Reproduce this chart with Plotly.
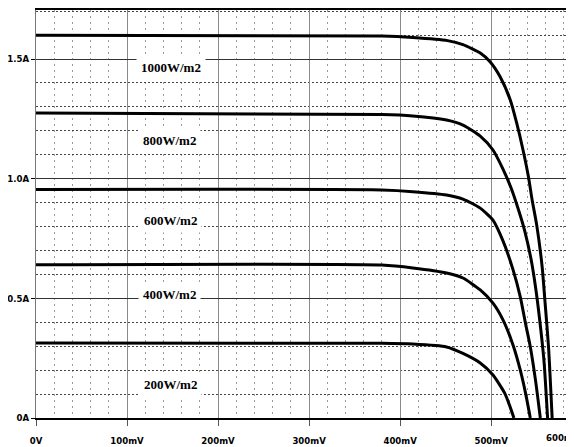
import plotly.graph_objects as go

# I-V curves (voltage in mV, current in A)
irradiance = ["1000W/m2", "800W/m2", "600W/m2", "400W/m2", "200W/m2"]

v_1000 = [0, 380, 414, 452, 469, 488, 499, 510, 521, 528, 535, 541, 545, 550, 556, 559, 563, 567]
i_1000 = [1.600, 1.596, 1.590, 1.577, 1.560, 1.525, 1.488, 1.425, 1.329, 1.233, 1.120, 1.007,
          0.911, 0.807, 0.632, 0.493, 0.298, 0.0]

v_800 = [0, 380, 414, 451, 469, 488, 502, 513, 522, 530, 537, 544, 549, 553, 558, 562]
i_800 = [1.275, 1.268, 1.262, 1.245, 1.224, 1.178, 1.120, 1.040, 0.960, 0.870, 0.780, 0.660,
         0.540, 0.420, 0.240, 0.0]

v_600 = [0, 380, 414, 451, 469, 488, 502, 513, 524, 532, 538, 543, 549, 554]
i_600 = [0.955, 0.953, 0.946, 0.932, 0.915, 0.877, 0.827, 0.740, 0.620, 0.506, 0.390, 0.298,
         0.150, 0.0]

v_400 = [0, 380, 414, 451, 469, 488, 502, 513, 524, 532, 538, 543]
i_400 = [0.640, 0.639, 0.627, 0.606, 0.585, 0.535, 0.480, 0.410, 0.305, 0.200, 0.100, 0.0]

v_200 = [0, 380, 414, 451, 469, 488, 502, 515, 520, 525]
i_200 = [0.313, 0.312, 0.309, 0.297, 0.270, 0.230, 0.180, 0.103, 0.055, 0.0]

curves = [(v_1000, i_1000), (v_800, i_800), (v_600, i_600), (v_400, i_400), (v_200, i_200)]

# where the irradiance labels sit (mV, A)
label_v = [148, 147, 148, 147, 148]
label_i = [1.463, 1.158, 0.827, 0.518, 0.138]

x_tickvals = [0, 100, 200, 300, 400, 500]
x_ticktext = ["0V", "100mV", "200mV", "300mV", "400mV", "500mV"]
y_tickvals = [0, 0.5, 1.0, 1.5]
y_ticktext = ["0A", "0.5A", "1.0A", "1.5A"]

X_MAX = 591
Y_MAX = 1.705

tick_font = dict(family="Liberation Sans Narrow, Arial Narrow, DejaVu Sans Condensed",
                 size=9.5, color="black", weight="bold")

fig = go.Figure()

for (v, i), name in zip(curves, irradiance):
    fig.add_trace(
        go.Scatter(
            x=v,
            y=i,
            mode="lines",
            name=name,
            line=dict(color="black", width=3, shape="spline", smoothing=0.6),
            showlegend=False,
        )
    )

for name, lv, li in zip(irradiance, label_v, label_i):
    fig.add_annotation(
        x=lv,
        y=li,
        text=name,
        showarrow=False,
        bgcolor="white",
        borderpad=4,
        font=dict(family="Liberation Serif, Times New Roman, serif", size=13,
                  color="black", weight="bold"),
    )

# 600mV label falls just past the cropped right edge
fig.add_annotation(
    x=600 / X_MAX,
    xref="paper",
    y=0,
    yref="paper",
    yanchor="middle",
    yshift=-19,
    text="600mV",
    showarrow=False,
    font=tick_font,
)

# page body has an 8px margin, so the figure is shrunk by that much
fig.update_layout(
    width=566,
    height=439,
    margin=dict(l=28, r=0, t=2, b=29),
    paper_bgcolor="white",
    plot_bgcolor="white",
)

fig.update_xaxes(
    range=[0, X_MAX],
    tickvals=x_tickvals,
    ticktext=x_ticktext,
    tickfont=tick_font,
    ticks="outside",
    ticklen=6,
    tickcolor="#555",
    ticklabelstandoff=7,
    showgrid=True,
    gridcolor="#8a8a8a",
    gridwidth=1,
    minor=dict(dtick=20, showgrid=True, gridcolor="#9a9a9a", griddash="2px,4px", gridwidth=1),
    showline=True,
    linecolor="black",
    linewidth=2,
    mirror=True,
    zeroline=False,
)

fig.update_yaxes(
    range=[0, Y_MAX],
    tickvals=y_tickvals,
    ticktext=y_ticktext,
    tickfont=tick_font,
    ticks="outside",
    ticklen=4,
    tickcolor="black",
    ticklabelstandoff=0,
    showgrid=True,
    gridcolor="#333",
    gridwidth=1,
    minor=dict(dtick=0.1, showgrid=True, gridcolor="#444", griddash="2px,2px", gridwidth=1),
    showline=True,
    linecolor="#777",
    linewidth=1,
    zeroline=False,
)

fig.write_html("out.html")
